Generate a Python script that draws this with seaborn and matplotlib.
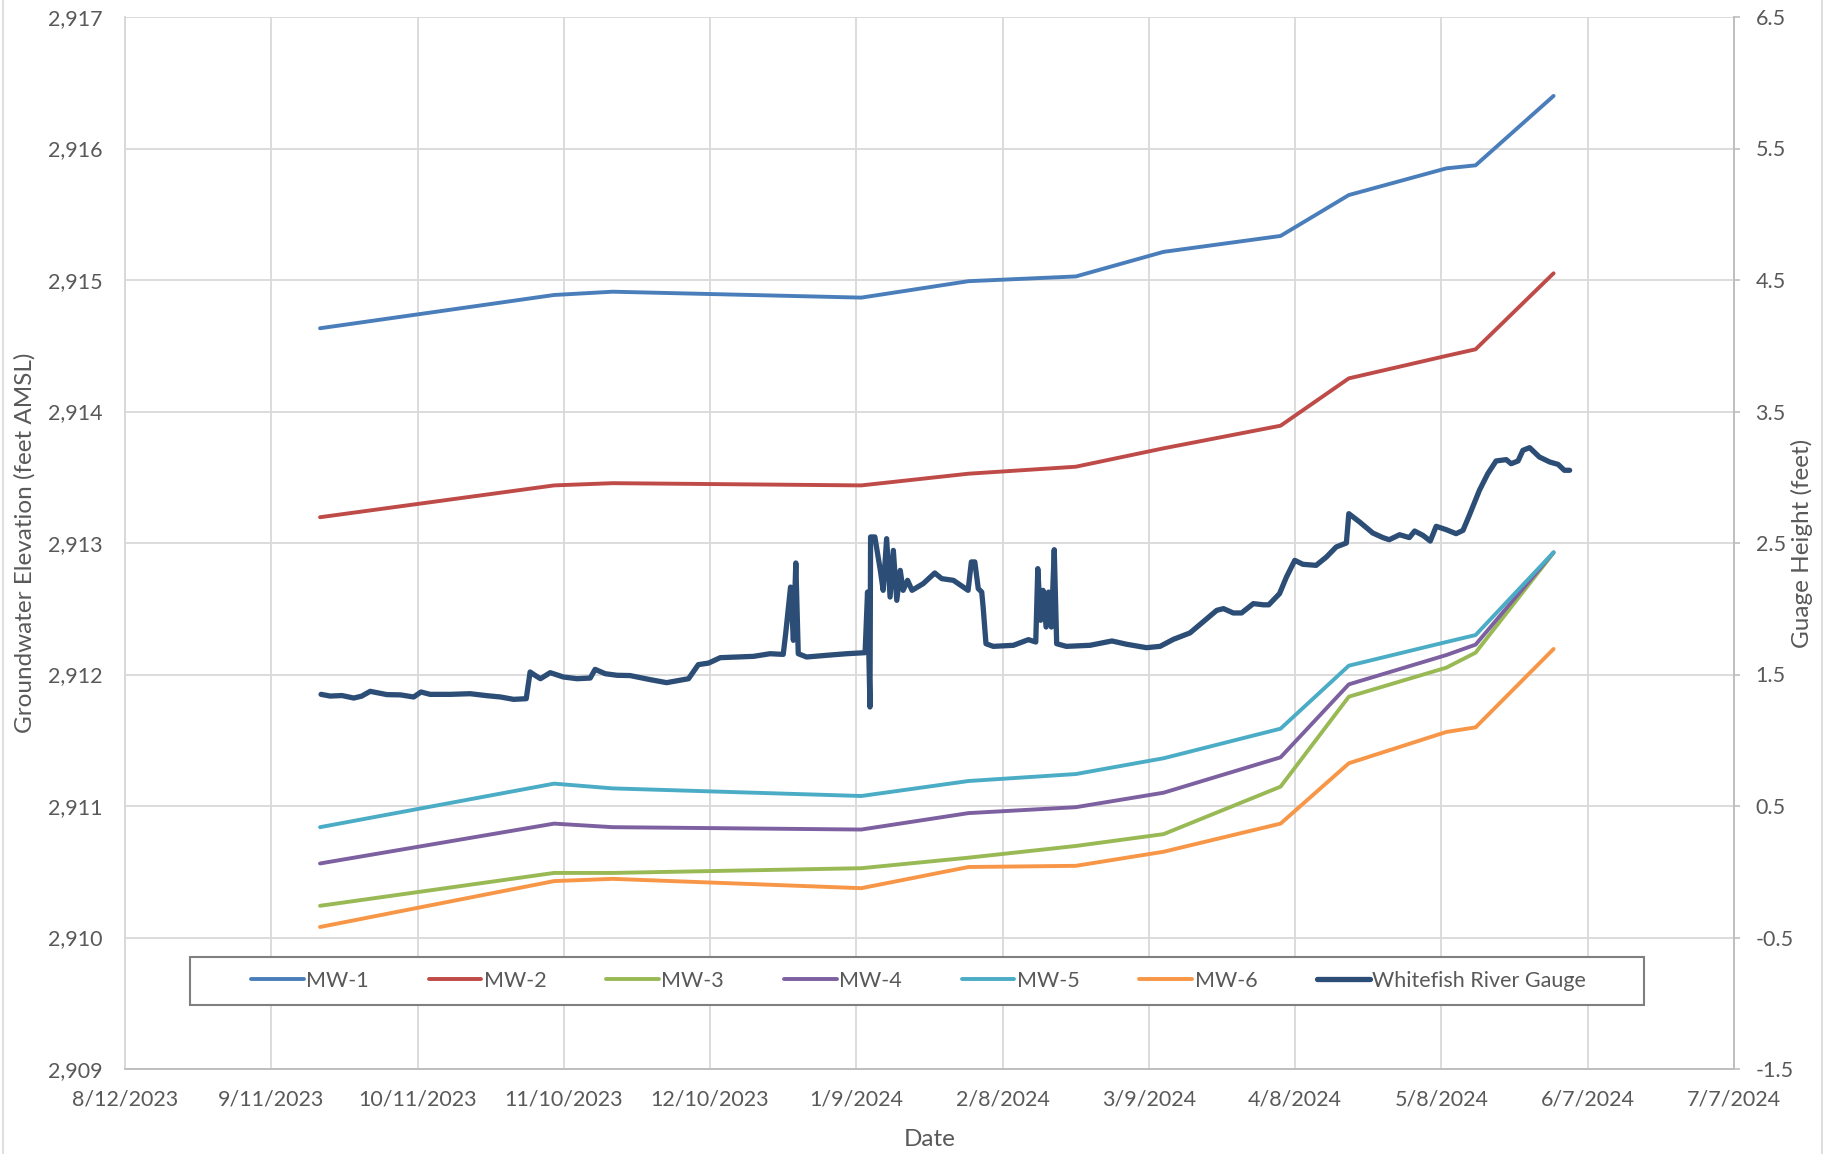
import matplotlib
matplotlib.use("Agg")
import matplotlib.pyplot as plt
import matplotlib.dates as mdates
from matplotlib.patches import Rectangle
from matplotlib.ticker import FuncFormatter, FixedLocator
import pandas as pd
import seaborn as sns

# Monitoring well survey dates and groundwater elevations (feet AMSL)
mw_dates = ["2023-09-21", "2023-11-08", "2023-11-20", "2024-01-10", "2024-02-01",
            "2024-02-23", "2024-03-12", "2024-04-05", "2024-04-19", "2024-05-09",
            "2024-05-15", "2024-05-31"]
mw1 = [2914.633, 2914.886, 2914.911, 2914.866, 2914.991, 2915.027, 2915.214,
       2915.335, 2915.646, 2915.849, 2915.872, 2916.400]
mw2 = [2913.196, 2913.438, 2913.455, 2913.438, 2913.527, 2913.580, 2913.720,
       2913.892, 2914.252, 2914.423, 2914.473, 2915.051]
mw3 = [2910.241, 2910.491, 2910.491, 2910.527, 2910.607, 2910.696, 2910.786,
       2911.147, 2911.831, 2912.052, 2912.166, 2912.926]
mw4 = [2910.563, 2910.866, 2910.839, 2910.821, 2910.946, 2910.991, 2911.101,
       2911.370, 2911.925, 2912.148, 2912.227, 2912.929]
mw5 = [2910.839, 2911.170, 2911.134, 2911.076, 2911.190, 2911.243, 2911.363,
       2911.588, 2912.067, 2912.247, 2912.300, 2912.929]
mw6 = [2910.080, 2910.429, 2910.446, 2910.375, 2910.536, 2910.545, 2910.652,
       2910.866, 2911.325, 2911.563, 2911.598, 2912.194]

# Whitefish River gauge height record (feet)
gauge_times = [
    "2023-09-21 05:00", "2023-09-23 02:00", "2023-09-25 12:00", "2023-09-27 22:00",
    "2023-09-29 12:00", "2023-10-01 07:00", "2023-10-04 17:00", "2023-10-07 12:00",
    "2023-10-10 05:00", "2023-10-11 17:00", "2023-10-13 14:00", "2023-10-17 17:00",
    "2023-10-21 19:00", "2023-10-25 05:00", "2023-10-28 00:00", "2023-10-30 17:00",
    "2023-11-02 07:00", "2023-11-03 02:00", "2023-11-03 19:00", "2023-11-05 05:00",
    "2023-11-07 05:00", "2023-11-09 22:00", "2023-11-12 17:00", "2023-11-15 10:00",
    "2023-11-16 10:00", "2023-11-18 12:00", "2023-11-20 22:00", "2023-11-23 14:00",
    "2023-11-27 17:00", "2023-12-01 02:00", "2023-12-03 19:00", "2023-12-05 14:00",
    "2023-12-07 14:00", "2023-12-09 17:00", "2023-12-12 02:00", "2023-12-15 12:00",
    "2023-12-18 22:00", "2023-12-22 07:00", "2023-12-25 00:00", "2023-12-25 12:00",
    "2023-12-26 12:00", "2023-12-27 02:00", "2023-12-27 14:00", "2023-12-28 02:00",
    "2023-12-29 19:00", "2024-01-02 22:00", "2024-01-07 00:00", "2024-01-10 19:00",
    "2024-01-11 07:00", "2024-01-11 19:00", "2024-01-11 22:00", "2024-01-12 19:00",
    "2024-01-13 22:00", "2024-01-14 12:00", "2024-01-15 05:00", "2024-01-15 22:00",
    "2024-01-16 14:00", "2024-01-17 07:00", "2024-01-18 00:00", "2024-01-18 14:00",
    "2024-01-19 12:00", "2024-01-20 10:00", "2024-01-22 17:00", "2024-01-25 02:00",
    "2024-01-26 12:00", "2024-01-28 22:00", "2024-01-30 22:00", "2024-01-31 22:00",
    "2024-02-01 14:00", "2024-02-02 07:00", "2024-02-03 00:00", "2024-02-03 17:00",
    "2024-02-04 00:00", "2024-02-04 14:00", "2024-02-06 02:00", "2024-02-10 05:00",
    "2024-02-13 07:00", "2024-02-14 19:00", "2024-02-15 05:00", "2024-02-15 19:00",
    "2024-02-16 07:00", "2024-02-16 22:00", "2024-02-17 10:00", "2024-02-18 00:00",
    "2024-02-18 14:00", "2024-02-19 02:00", "2024-02-21 02:00", "2024-02-25 22:00",
    "2024-03-01 10:00", "2024-03-04 10:00", "2024-03-08 12:00", "2024-03-11 07:00",
    "2024-03-14 00:00", "2024-03-17 10:00", "2024-03-20 02:00", "2024-03-22 22:00",
    "2024-03-24 07:00", "2024-03-26 07:00", "2024-03-28 00:00", "2024-03-30 10:00",
    "2024-04-01 12:00", "2024-04-02 14:00", "2024-04-04 19:00", "2024-04-06 05:00",
    "2024-04-07 22:00", "2024-04-09 14:00", "2024-04-12 07:00", "2024-04-14 10:00",
    "2024-04-16 10:00", "2024-04-18 12:00", "2024-04-19 00:00", "2024-04-21 05:00",
    "2024-04-23 22:00", "2024-04-26 00:00", "2024-04-27 07:00", "2024-04-29 10:00",
    "2024-05-01 10:00", "2024-05-02 12:00", "2024-05-04 05:00", "2024-05-05 17:00",
    "2024-05-06 22:00", "2024-05-09 00:00", "2024-05-11 00:00", "2024-05-12 10:00",
    "2024-05-13 17:00", "2024-05-15 19:00", "2024-05-17 12:00", "2024-05-19 05:00",
    "2024-05-21 07:00", "2024-05-22 07:00", "2024-05-23 17:00", "2024-05-24 17:00",
    "2024-05-26 02:00", "2024-05-28 02:00", "2024-05-30 05:00", "2024-05-31 22:00",
    "2024-06-02 05:00", "2024-06-03 07:00",
]
gauge_height = [
    1.349, 1.336, 1.340, 1.321, 1.335, 1.372, 1.347, 1.345,
    1.329, 1.367, 1.349, 1.349, 1.354, 1.339, 1.329, 1.311,
    1.316, 1.519, 1.501, 1.468, 1.514, 1.481, 1.468, 1.473,
    1.539, 1.506, 1.494, 1.492, 1.461, 1.438, 1.456, 1.468,
    1.575, 1.587, 1.628, 1.633, 1.638, 1.658, 1.653, 1.810,
    2.165, 1.760, 2.348, 1.658, 1.633, 1.646, 1.658, 1.666,
    2.127, 1.253, 2.546, 2.546, 2.292, 2.140, 2.533, 2.089,
    2.444, 2.064, 2.292, 2.140, 2.216, 2.140, 2.191, 2.272,
    2.229, 2.216, 2.165, 2.140, 2.356, 2.356, 2.153, 2.127,
    2.013, 1.734, 1.714, 1.722, 1.765, 1.747, 2.305, 1.912,
    2.140, 1.861, 2.127, 1.861, 2.449, 1.734, 1.714, 1.722,
    1.755, 1.730, 1.704, 1.714, 1.767, 1.816, 1.899, 1.988,
    2.001, 1.968, 1.968, 2.039, 2.030, 2.030, 2.115, 2.241,
    2.368, 2.338, 2.330, 2.394, 2.470, 2.500, 2.723, 2.660,
    2.576, 2.541, 2.525, 2.563, 2.541, 2.591, 2.558, 2.515,
    2.627, 2.601, 2.571, 2.596, 2.710, 2.901, 3.027, 3.124,
    3.134, 3.103, 3.124, 3.205, 3.225, 3.154, 3.116, 3.098,
    3.053, 3.053,
]

series_names = ["MW-1", "MW-2", "MW-3", "MW-4", "MW-5", "MW-6"]
series_colors = ["#4A7EBB", "#BE4B48", "#98B954", "#7D60A0", "#4BACC6", "#F79646"]
gauge_name = "Whitefish River Gauge"
gauge_color = "#2C4D75"

x_ticks = pd.date_range("2023-08-12", "2024-07-07", freq="30D")
left_ticks = [2909, 2910, 2911, 2912, 2913, 2914, 2915, 2916, 2917]
right_ticks = [-1.5, -0.5, 0.5, 1.5, 2.5, 3.5, 4.5, 5.5, 6.5]

sns.set_style("white")
plt.rcParams["font.family"] = ["Lato", "DejaVu Sans"]
plt.rcParams["axes.unicode_minus"] = False
text_color = "#595959"
fs = 15.5
title_fs = 17.5

W, H = 1837, 1154
fig = plt.figure(figsize=(W / 100, H / 100), dpi=100)
ax = fig.add_axes([125 / W, 1 - 1069 / H, (1734 - 125) / W, (1069 - 17) / H])
ax2 = ax.twinx()

mw = pd.DataFrame({"date": pd.to_datetime(mw_dates)})
for name, vals in zip(series_names, [mw1, mw2, mw3, mw4, mw5, mw6]):
    mw[name] = vals

handles = []
for name, color in zip(series_names, series_colors):
    sns.lineplot(data=mw, x="date", y=name, ax=ax, color=color, lw=2.8,
                 label=name, legend=False, solid_capstyle="round",
                 solid_joinstyle="round")
    handles.append(ax.get_lines()[-1])

gauge = pd.DataFrame({"time": pd.to_datetime(gauge_times), "height": gauge_height})
sns.lineplot(data=gauge, x="time", y="height", ax=ax2, color=gauge_color, lw=3.8,
             label=gauge_name, legend=False, sort=False, estimator=None,
             solid_capstyle="round", solid_joinstyle="round")
handles.append(ax2.get_lines()[-1])

# x axis: dates every 30 days
ax.set_xlim(x_ticks[0], x_ticks[-1])
ax.set_xticks(x_ticks)
ax.xaxis.set_major_formatter(mdates.DateFormatter("%-m/%-d/%Y"))

# left axis: groundwater elevation
ax.set_ylim(left_ticks[0], left_ticks[-1])
ax.yaxis.set_major_locator(FixedLocator(left_ticks))
ax.yaxis.set_major_formatter(FuncFormatter(lambda v, p: f"{v:,.0f}"))

# right axis: gauge height
ax2.set_ylim(right_ticks[0], right_ticks[-1])
ax2.yaxis.set_major_locator(FixedLocator(right_ticks))
ax2.yaxis.set_major_formatter(FuncFormatter(lambda v, p: f"{v:.1f}"))

ax.grid(True, color="#D9D9D9", lw=1.3)
ax.set_axisbelow(True)
ax2.grid(False)

ax.tick_params(axis="both", length=0, labelsize=fs, labelcolor=text_color)
ax.tick_params(axis="y", pad=16)
ax.tick_params(axis="x", pad=15)
ax2.tick_params(axis="y", length=4.5, width=1.2, color="#BFBFBF", pad=11,
                labelsize=fs, labelcolor=text_color)

for a in (ax, ax2):
    a.spines["top"].set_visible(False)
    a.spines["left"].set_color("#D9D9D9")
    a.spines["bottom"].set_color("#BFBFBF")
    a.spines["right"].set_color("#BFBFBF")
    for s in a.spines.values():
        s.set_linewidth(1.3)

ax.set_xlabel("Date", fontsize=title_fs, color=text_color)
ax.xaxis.set_label_coords(0.5, -(1129 - 1069) / (1069 - 17))
ax.set_ylabel("Groundwater Elevation (feet AMSL)", fontsize=title_fs, color=text_color)
ax.yaxis.set_label_coords((36 - 125) / (1734 - 125), 0.5)
ax2.set_ylabel("Guage Height (feet)", fontsize=title_fs, color=text_color,
               rotation=90)
ax2.yaxis.set_label_coords((1791 - 125) / (1734 - 125), 0.5)

# legend box below the data
fig.patches.append(Rectangle((190 / W, 1 - 1005 / H), (1644 - 190) / W, (1005 - 957) / H,
                             transform=fig.transFigure, facecolor="white",
                             edgecolor="#7F7F7F", lw=1.5, zorder=1))
leg = fig.legend(handles, series_names + [gauge_name], ncol=7, loc="center left",
                 bbox_to_anchor=(251 / W, 1 - 981 / H), frameon=False,
                 fontsize=fs, handlelength=2.45, handletextpad=0.12,
                 columnspacing=2.77, borderpad=0, borderaxespad=0)
for t in leg.get_texts():
    t.set_color(text_color)
leg.set_zorder(5)

# chart-area border
for xb in (3, 1822):
    fig.add_artist(plt.Line2D([xb / W, xb / W], [0, 1], transform=fig.transFigure,
                              color="#D9D9D9", lw=1.2))

fig.savefig("out.png", dpi=100, facecolor="white")
